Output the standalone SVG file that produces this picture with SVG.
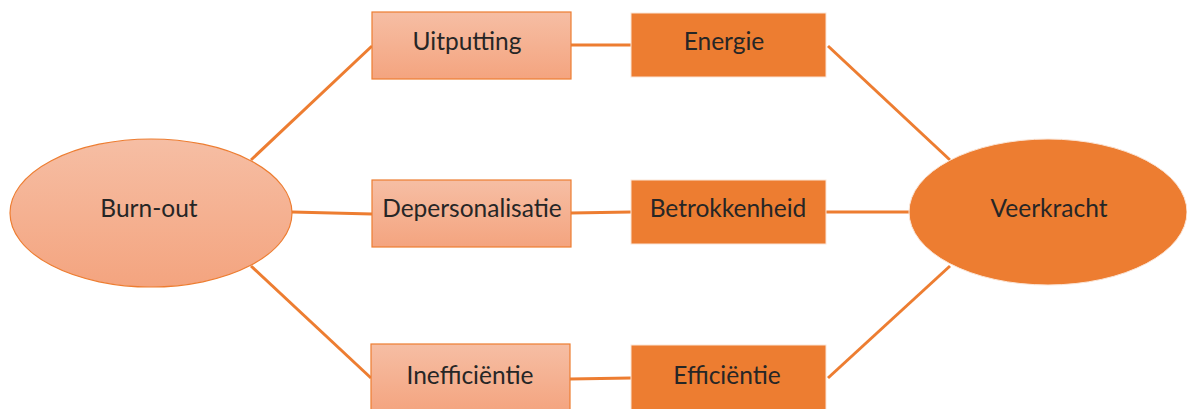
<svg xmlns="http://www.w3.org/2000/svg" width="1187" height="409" viewBox="0 0 1187 409">
<defs>
<linearGradient id="lg" x1="0" y1="0" x2="0" y2="1">
<stop offset="0" stop-color="#f6bea4"/>
<stop offset="1" stop-color="#f4a47f"/>
</linearGradient>
<style>
.light{fill:url(#lg);stroke:#ed7d31;stroke-width:1.2}
.dark{fill:#ed7d31;stroke:#fbe5d6;stroke-width:1}
.t{font-family:Lato,"Open Sans","Liberation Sans",sans-serif;font-size:24.5px;fill:#262626;text-anchor:middle;dominant-baseline:central}
.c line{stroke:#ed7d31;stroke-width:3}
</style>
</defs>
<rect width="1187" height="409" fill="#ffffff"/>
<g class="c" id="connectors">
<line x1="251" y1="160" x2="372" y2="46"/>
<line x1="292" y1="212" x2="372" y2="214"/>
<line x1="251" y1="266" x2="371" y2="378"/>
<line x1="571" y1="45" x2="631" y2="45"/>
<line x1="571" y1="213" x2="631" y2="212"/>
<line x1="570" y1="379" x2="631" y2="378"/>
<line x1="828" y1="46" x2="950" y2="160"/>
<line x1="826" y1="212" x2="909" y2="212"/>
<line x1="828" y1="378" x2="950" y2="266"/>
</g>
<g id="burnout"><ellipse class="light" cx="151" cy="213" rx="141" ry="74"/><text class="t" x="149" y="207">Burn-out</text></g>
<g id="veerkracht"><ellipse class="dark" cx="1048" cy="212" rx="139" ry="73"/><text class="t" x="1049" y="207">Veerkracht</text></g>
<g id="uitputting"><rect class="light" x="372" y="12" width="199" height="67"/><text class="t" x="467" y="40">Uitputting</text></g>
<g id="depersonalisatie"><rect class="light" x="372" y="180" width="199" height="67"/><text class="t" x="472" y="207">Depersonalisatie</text></g>
<g id="inefficientie"><rect class="light" x="371" y="344" width="199" height="68"/><text class="t" x="470" y="374">Inefficiëntie</text></g>
<g id="energie"><rect class="dark" x="631" y="13" width="195" height="64"/><text class="t" x="724" y="40">Energie</text></g>
<g id="betrokkenheid"><rect class="dark" x="631" y="180" width="195" height="64"/><text class="t" x="728" y="207">Betrokkenheid</text></g>
<g id="efficientie"><rect class="dark" x="631" y="345" width="195" height="67"/><text class="t" x="727" y="374">Efficiëntie</text></g>
</svg>
